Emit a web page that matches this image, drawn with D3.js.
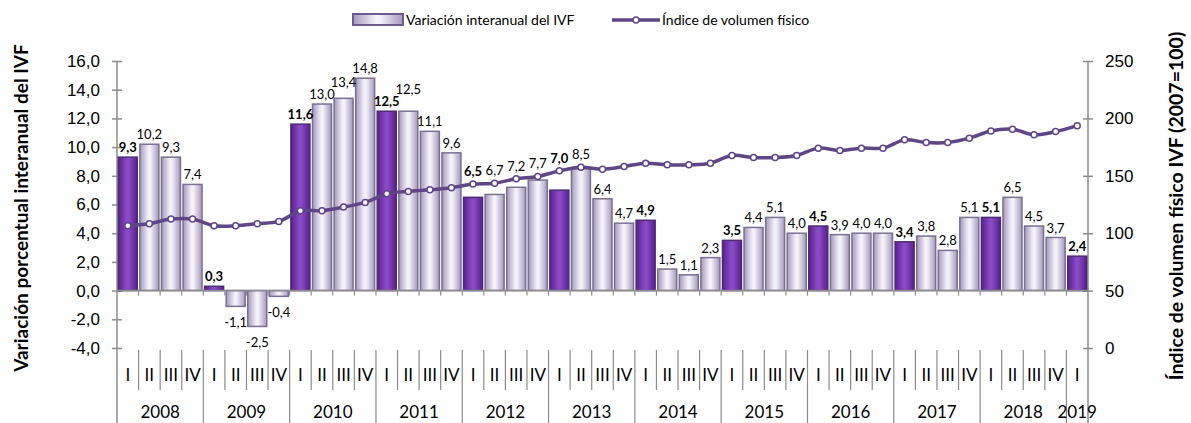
<!DOCTYPE html>
<html>
<head>
<meta charset="utf-8">
<script src="https://cdn.jsdelivr.net/npm/d3@7"></script>
<style>
  body { margin: 0; background: #fff; }
  svg { font-family: Lato, "Open Sans", sans-serif; }
</style>
</head>
<body>
<div id="chart"></div>
<script>
// Data
const years = ["2008", "2009", "2010", "2011", "2012", "2013", "2014", "2015", "2016", "2017", "2018", "2019"];
const quarters = ["I", "II", "III", "IV"];
const variacion = [
  9.3, 10.2, 9.3, 7.4,
  0.3, -1.1, -2.5, -0.4,
  11.6, 13.0, 13.4, 14.8,
  12.5, 12.5, 11.1, 9.6,
  6.5, 6.7, 7.2, 7.7,
  7.0, 8.5, 6.4, 4.7,
  4.9, 1.5, 1.1, 2.3,
  3.5, 4.4, 5.1, 4.0,
  4.5, 3.9, 4.0, 4.0,
  3.4, 3.8, 2.8, 5.1,
  5.1, 6.5, 4.5, 3.7,
  2.4
];
const ivf = [
  106.5, 108.3, 112.3, 112.3,
  106.5, 106.5, 108.3, 110.3,
  119.6, 119.6, 122.8, 126.8,
  134.3, 136.4, 137.8, 139.6,
  142.8, 143.6, 147.4, 149.4,
  154.3, 157.5, 155.8, 158.1,
  161.0, 159.6, 159.6, 161.0,
  167.7, 165.9, 165.9, 167.7,
  174.1, 172.0, 174.1, 174.1,
  181.3, 179.0, 179.0, 182.8,
  189.1, 190.6, 185.7, 188.5,
  193.7
];
const leftTicks = [-4, -2, 0, 2, 4, 6, 8, 10, 12, 14, 16];
const rightTicks = [0, 50, 100, 150, 200, 250];

const periods = variacion.map((v, i) => ({
  i: i,
  year: years[Math.floor(i / 4)],
  q: quarters[i % 4],
  v: v,
  idx: ivf[i]
}));

const fmt = v => v.toFixed(1).replace(".", ",");

const W = 1191, H = 423;
const margin = { top: 61, left: 117, right: 103, bottom: 75 };
const plotW = W - margin.left - margin.right;
const plotH = H - margin.top - margin.bottom;

const svg = d3.select("#chart").append("svg")
  .attr("width", W).attr("height", H);

const defs = svg.append("defs");
function hGrad(id, edge, mid) {
  const g = defs.append("linearGradient").attr("id", id)
    .attr("x1", "0%").attr("x2", "100%").attr("y1", "0%").attr("y2", "0%");
  g.append("stop").attr("offset", "0%").attr("stop-color", edge);
  g.append("stop").attr("offset", "45%").attr("stop-color", mid);
  g.append("stop").attr("offset", "55%").attr("stop-color", mid);
  g.append("stop").attr("offset", "100%").attr("stop-color", edge);
}
hGrad("gLight", "#a597bd", "#f4f1f9");
hGrad("gDark", "#58208c", "#8a4ac6");

const g = svg.append("g").attr("transform", `translate(${margin.left},${margin.top})`);

const x = d3.scaleBand().domain(periods.map(d => d.i)).range([0, plotW]).paddingInner(0.12).paddingOuter(0.06);
const y = d3.scaleLinear().domain([-4, 16]).range([plotH, 0]);
const y2 = d3.scaleLinear().domain([0, 250]).range([plotH, 0]);
const step = plotW / periods.length;
const cx = d => x(d.i) + x.bandwidth() / 2;

const axisColor = "#8c8c8c";

// Left axis
const leftAxis = g.append("g")
  .call(d3.axisLeft(y).tickValues(leftTicks).tickSizeInner(5).tickSizeOuter(0).tickPadding(12)
    .tickFormat(fmt));
leftAxis.select(".domain").remove();
leftAxis.selectAll(".tick line").attr("x1", -5).attr("x2", 5).attr("stroke", axisColor).attr("stroke-width", 1.5);
leftAxis.selectAll("text").attr("font-size", 17).attr("fill", "#000");
g.append("line").attr("x1", 0).attr("x2", 0).attr("y1", 0).attr("y2", H - margin.top)
  .attr("stroke", axisColor).attr("stroke-width", 1.5);

// Right axis
const rightAxis = g.append("g").attr("transform", `translate(${plotW},0)`)
  .call(d3.axisRight(y2).tickValues(rightTicks).tickSizeInner(5).tickSizeOuter(0).tickPadding(12));
rightAxis.select(".domain").remove();
rightAxis.selectAll(".tick line").attr("x1", -5).attr("x2", 5).attr("stroke", axisColor).attr("stroke-width", 1.5);
rightAxis.selectAll("text").attr("font-size", 17).attr("fill", "#000");
g.append("line").attr("x1", plotW).attr("x2", plotW).attr("y1", 0).attr("y2", H - margin.top)
  .attr("stroke", axisColor).attr("stroke-width", 1.5);

// Bars
g.selectAll(".bar").data(periods).enter().append("rect")
  .attr("class", "bar")
  .attr("x", d => x(d.i))
  .attr("width", x.bandwidth())
  .attr("y", d => y(Math.max(0, d.v)))
  .attr("height", d => Math.abs(y(d.v) - y(0)))
  .attr("fill", d => d.q === "I" ? "url(#gDark)" : "url(#gLight)")
  .attr("stroke", d => d.q === "I" ? "#4d2a73" : "#7b7090")
  .attr("stroke-width", 1.5);

// Zero line and category ticks
g.append("line").attr("x1", 0).attr("x2", plotW).attr("y1", y(0)).attr("y2", y(0))
  .attr("stroke", axisColor).attr("stroke-width", 1.5);
g.selectAll(".ztick").data(d3.range(1, periods.length)).enter().append("line")
  .attr("x1", d => d * step).attr("x2", d => d * step)
  .attr("y1", y(0)).attr("y2", y(0) + 5)
  .attr("stroke", axisColor).attr("stroke-width", 1.2);

// Category labels below the plot
const catTop = plotH + 2;
g.selectAll(".sep").data(d3.range(1, periods.length)).enter().append("line")
  .attr("x1", d => d * step).attr("x2", d => d * step)
  .attr("y1", catTop)
  .attr("y2", d => d % 4 === 0 ? H - margin.top : catTop + 40)
  .attr("stroke", axisColor).attr("stroke-width", 1.2);
g.selectAll(".qlab").data(periods).enter().append("text")
  .attr("x", cx).attr("y", catTop + 31)
  .attr("text-anchor", "middle").attr("font-size", 17).attr("fill", "#000")
  .text(d => d.q);
g.selectAll(".ylab").data(years).enter().append("text")
  .attr("x", (d, i) => {
    const n = Math.min(4, periods.length - i * 4);
    return (i * 4 + n / 2) * step;
  })
  .attr("y", catTop + 68)
  .attr("text-anchor", "middle").attr("font-size", 17).attr("fill", "#000")
  .text(d => d);

// Line
const line = d3.line().x(cx).y(d => y2(d.idx)).curve(d3.curveCatmullRom.alpha(0.5));
g.append("path").datum(periods)
  .attr("d", line).attr("fill", "none")
  .attr("stroke", "#5f4686").attr("stroke-width", 3.5);
g.selectAll(".pt").data(periods).enter().append("circle")
  .attr("cx", cx).attr("cy", d => y2(d.idx)).attr("r", 3)
  .attr("fill", "#fff").attr("stroke", "#5f4686").attr("stroke-width", 1.5);

// Data labels: above the bar, lifted over the line when it is close, and lifted over the neighbour when they collide
function labelY(d) {
  if (d.v < 0) return y(d.v) + 21;
  const top = y(d.v);
  const ly = y2(d.idx);
  if (ly > top - 24 && ly < top + 4) return ly - 8;
  return top - 5;
}
const labels = g.selectAll(".vlab").data(periods).enter().append("text")
  .attr("x", cx).attr("y", labelY)
  .attr("text-anchor", "middle").attr("font-size", 13)
  .attr("font-weight", d => d.q === "I" ? "bold" : "normal")
  .attr("fill", "#000")
  .text(d => fmt(d.v));
let prev = null;
labels.each(function(d) {
  const w = this.getComputedTextLength();
  let ly = +d3.select(this).attr("y");
  if (prev && d.v >= 0 && prev.v >= 0) {
    const overlapX = (prev.w + w) / 2 + 1 > step;
    if (overlapX && Math.abs(prev.y - ly) < 12) {
      ly = prev.y - 12;
      d3.select(this).attr("y", ly);
    }
  }
  prev = { w: w, y: ly, v: d.v };
});

// Axis titles
svg.append("text")
  .attr("transform", `translate(28,208) rotate(-90)`)
  .attr("text-anchor", "middle").attr("font-size", 19).attr("font-weight", "bold")
  .text("Variación porcentual interanual del IVF");
svg.append("text")
  .attr("transform", `translate(1183,206) rotate(-90)`)
  .attr("text-anchor", "middle").attr("font-size", 19.5).attr("font-weight", "bold")
  .text("Índice de volumen físico IVF (2007=100)");

// Legend
const leg = svg.append("g");
leg.append("rect").attr("x", 353).attr("y", 14).attr("width", 50).attr("height", 11)
  .attr("fill", "url(#gLight)").attr("stroke", "#6e5a8e").attr("stroke-width", 2);
leg.append("text").attr("x", 406).attr("y", 25).attr("font-size", 14).text("Variación interanual del IVF");
leg.append("line").attr("x1", 612).attr("x2", 660).attr("y1", 20).attr("y2", 20)
  .attr("stroke", "#5f4686").attr("stroke-width", 3.5);
leg.append("circle").attr("cx", 636).attr("cy", 20).attr("r", 3)
  .attr("fill", "#fff").attr("stroke", "#5f4686").attr("stroke-width", 1.5);
leg.append("text").attr("x", 662).attr("y", 25).attr("font-size", 14).text("Índice de volumen físico");
</script>
</body>
</html>
